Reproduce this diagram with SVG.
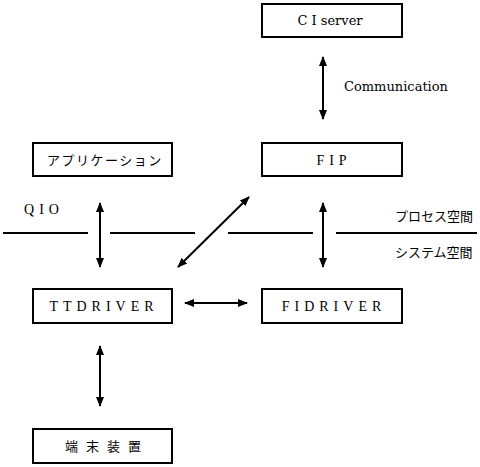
<svg xmlns="http://www.w3.org/2000/svg" width="480" height="467" viewBox="0 0 480 467">
<style>
.box{fill:#fff;stroke:#000;stroke-width:2}
.t{font-family:"Liberation Serif","Noto Sans CJK JP",serif;font-size:14px;fill:#000;text-anchor:middle}
.d{font-family:"DejaVu Serif","Liberation Serif",serif;font-size:13px;fill:#000;text-anchor:middle}
.ts{letter-spacing:5px}
.j{font-family:"Noto Sans CJK JP",sans-serif;font-size:13px;fill:#000}
.ln{stroke:#000;stroke-width:2;fill:none}
.ar{stroke:#000;stroke-width:2;fill:none;marker-start:url(#ah);marker-end:url(#ah)}
</style>
<defs>
<marker id="ah" viewBox="0 0 10 10" refX="9" refY="5" markerWidth="5" markerHeight="5" orient="auto-start-reverse" markerUnits="strokeWidth">
<path d="M0,1 L10,5 L0,9 z" fill="#000"/>
</marker>
</defs>
<g id="ciserver"><rect class="box" x="262" y="4" width="140" height="33"/><text class="d" x="330" y="25">C I server</text></g>
<g id="app"><rect class="box" x="33" y="143" width="139" height="33"/><text class="j" x="47" y="165" font-size="12" letter-spacing="1.5">アプリケーション</text></g>
<g id="fip"><rect class="box" x="262" y="143" width="140" height="33"/><text class="t ts" x="334" y="165">FIP</text></g>
<g id="ttdriver"><rect class="box" x="33" y="289" width="139" height="34"/><text class="t ts" x="104" y="311">TTDRIVER</text></g>
<g id="fidriver"><rect class="box" x="262" y="289" width="140" height="34"/><text class="t ts" x="334" y="311">FIDRIVER</text></g>
<g id="terminal"><rect class="box" x="33" y="429" width="139" height="34"/><text class="j" x="65" y="451" font-size="12" letter-spacing="8">端末装置</text></g>
<g id="labels">
<text class="d" x="396" y="91">Communication</text>
<text class="t ts" x="44" y="214">QIO</text>
<text class="j" x="395" y="221">プロセス空間</text>
<text class="j" x="395" y="257">システム空間</text>
</g>
<g id="connectors">
<line class="ln" x1="3" y1="233" x2="88" y2="233"/>
<line class="ln" x1="110" y1="233" x2="195" y2="233"/>
<line class="ln" x1="228" y1="233" x2="313" y2="233"/>
<line class="ln" x1="336" y1="233" x2="477" y2="233"/>
<line class="ar" x1="323" y1="57" x2="323" y2="119"/>
<line class="ar" x1="100" y1="203" x2="100" y2="267"/>
<line class="ar" x1="323" y1="203" x2="323" y2="267"/>
<line class="ar" x1="249" y1="197" x2="178" y2="267"/>
<line class="ar" x1="185" y1="303" x2="247" y2="303"/>
<line class="ar" x1="100" y1="346" x2="100" y2="406"/>
</g>
</svg>
